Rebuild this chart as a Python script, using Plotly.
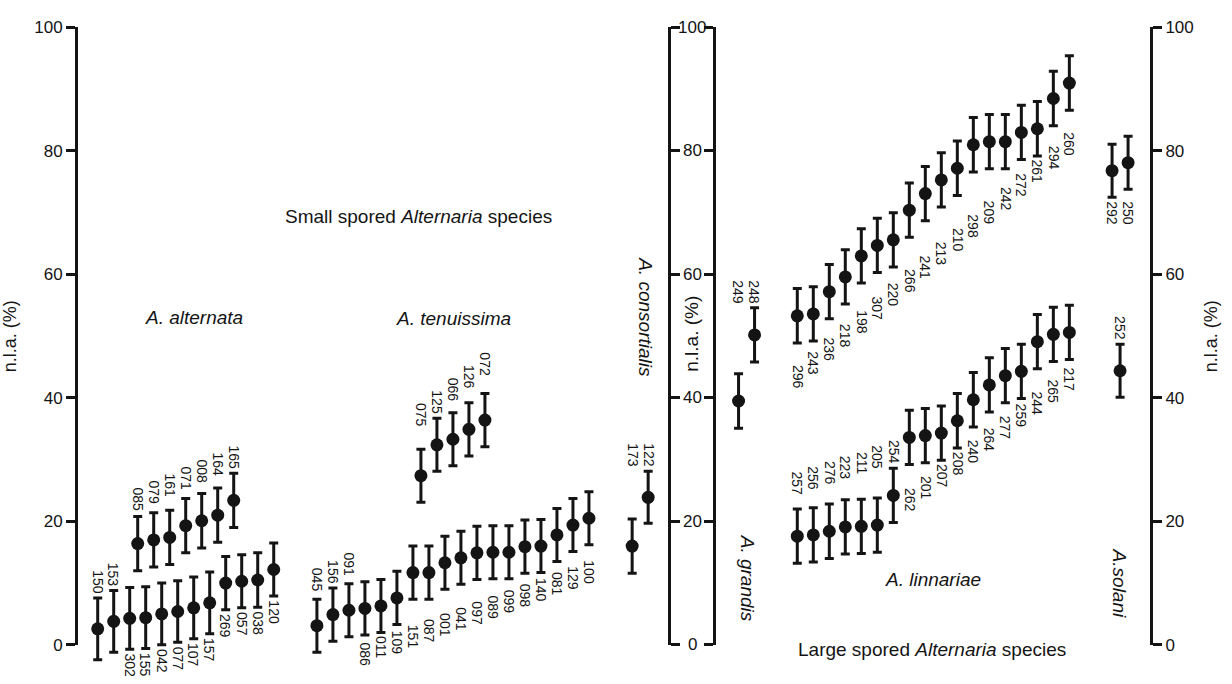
import numpy as np
import plotly.graph_objects as go

# ------------------------------------------------------------------ data
# Small spored Alternaria species (left panel)
alt_lo_ids = ['150', '153', '302', '155', '042', '077', '107', '157', '269', '057', '038', '120']
alt_lo_val = [2.6, 3.8, 4.3, 4.4, 5.0, 5.4, 6.0, 6.8, 10.0, 10.3, 10.5, 12.2]
alt_lo_err = [5.0, 5.0, 5.0, 5.0, 5.0, 5.0, 5.0, 5.0, 4.3, 4.3, 4.4, 4.3]

alt_hi_ids = ['085', '079', '161', '071', '008', '164', '165']
alt_hi_val = [16.4, 17.0, 17.4, 19.3, 20.1, 21.0, 23.4]
alt_hi_err = [4.4, 4.4, 4.4, 4.4, 4.4, 4.4, 4.4]

ten_lo_ids = ['045', '156', '091', '086', '011', '109', '151', '087', '001',
              '041', '097', '089', '099', '098', '140', '081', '129', '100']
ten_lo_val = [3.1, 4.9, 5.6, 5.9, 6.3, 7.6, 11.7, 11.7, 13.3,
              14.1, 14.9, 15.0, 15.0, 15.9, 16.0, 17.8, 19.4, 20.5]
ten_lo_err = [4.3] * 18

ten_hi_ids = ['075', '125', '066', '126', '072']
ten_hi_val = [27.4, 32.4, 33.3, 34.9, 36.4]
ten_hi_err = [4.3, 4.3, 4.3, 4.3, 4.3]

cons_ids = ['173', '122']
cons_val = [16.0, 23.9]
cons_err = [4.4, 4.2]

# Large spored Alternaria species (right panel)
gran_ids = ['249', '248']
gran_val = [39.5, 50.2]
gran_err = [4.4, 4.4]

lin_hi_ids = ['296', '243', '236', '218', '198', '307', '220', '266', '241',
              '213', '210', '298', '209', '242', '272', '261', '294', '260']
lin_hi_val = [53.3, 53.6, 57.2, 59.6, 63.0, 64.7, 65.6, 70.4, 73.1,
              75.3, 77.2, 81.0, 81.5, 81.5, 83.0, 83.6, 88.5, 91.0]
lin_hi_err = [4.4] * 18

lin_lo_ids = ['257', '256', '276', '223', '211', '205', '254', '262', '201',
              '207', '208', '240', '264', '277', '259', '244', '265', '217']
lin_lo_val = [17.6, 17.8, 18.4, 19.1, 19.2, 19.4, 24.2, 33.6, 33.9,
              34.3, 36.3, 39.7, 42.1, 43.6, 44.3, 49.1, 50.3, 50.6]
lin_lo_err = [4.4] * 18

sol_hi_ids = ['292', '250']
sol_hi_val = [76.8, 78.1]
sol_hi_err = [4.3, 4.3]

sol_lo_ids = ['252']
sol_lo_val = [44.4]
sol_lo_err = [4.3]

y_ticks = [0, 20, 40, 60, 80, 100]

# ------------------------------------------------------------------ style / layout
W, H = 1232, 684
INK = '#141414'
FONT = 'Liberation Sans, Arial, sans-serif'
Y0_PX, Y100_PX = 654, 19          # pixel rows of 0 % and 100 %
PX_PER_UNIT = (Y0_PX - Y100_PX) / 100.0


def fx(p):
    return p / W


def fy(p):
    return 1 - p / H


# (ids, values, errors, panel, start position, number of labels above, label placement)
groups = [
    (alt_lo_ids, alt_lo_val, alt_lo_err, 1, 0.0, 2, 'cap'),
    (alt_hi_ids, alt_hi_val, alt_hi_err, 1, 2.5, 7, 'line'),
    (ten_lo_ids, ten_lo_val, ten_lo_err, 1, 13.7, 3, 'line'),
    (ten_hi_ids, ten_hi_val, ten_hi_err, 1, 20.2, 5, 'line'),
    (cons_ids, cons_val, cons_err, 1, 33.4, 2, 'level'),
    (gran_ids, gran_val, gran_err, 2, -3.67, 2, 'level'),
    (lin_hi_ids, lin_hi_val, lin_hi_err, 2, 0.0, 0, 'line'),
    (lin_lo_ids, lin_lo_val, lin_lo_err, 2, 0.0, 7, 'line'),
    (sol_hi_ids, sol_hi_val, sol_hi_err, 2, 19.67, 0, 'level'),
    (sol_lo_ids, sol_lo_val, sol_lo_err, 2, 20.17, 1, 'cap'),
]


def label_line(xs, caps, above, mode):
    """Labels follow each cap, or sit on a straight / level line clearing every cap."""
    if mode == 'cap' or len(xs) == 1:
        return caps
    if mode == 'level':
        slope, icpt = 0.0, 0.0
    else:
        slope, icpt = np.polyfit(xs, caps, 1)
    line = icpt + slope * xs
    off = (caps - line).max() if above else (caps - line).min()
    return line + off


fig = go.Figure()
annotations = []

# empty traces so that the two visible axis subplots are always built
for xa, ya in (('x', 'y'), ('x2', 'y2')):
    fig.add_trace(go.Scatter(x=[], y=[], xaxis=xa, yaxis=ya, mode='markers',
                             showlegend=False, hoverinfo='skip'))

for ids, vals, errs, panel, start, n_above, mode in groups:
    xs = start + np.arange(len(vals))
    v = np.array(vals)
    e = np.array(errs)
    xa = 'x' if panel == 1 else 'x2'
    ya = 'y3' if panel == 1 else 'y4'
    fig.add_trace(go.Scatter(
        x=xs, y=v, mode='markers', xaxis=xa, yaxis=ya, cliponaxis=False,
        marker=dict(size=13, color=INK),
        error_y=dict(type='data', array=e, visible=True, thickness=3, width=4.5, color=INK),
        showlegend=False, hoverinfo='skip'))
    idx = np.arange(len(vals))
    for above in (True, False):
        sel = idx < n_above if above else idx >= n_above
        if not sel.any():
            continue
        caps = (v + e)[sel] if above else (v - e)[sel]
        ys = label_line(xs[sel], caps, above, mode)
        for xv, yv, lab in zip(xs[sel], ys, np.array(ids)[sel]):
            annotations.append(dict(
                x=xv, y=yv, xref=xa, yref=ya, text=lab, textangle=90, showarrow=False,
                xanchor='center', yanchor='bottom' if above else 'top',
                yshift=3 if above else -3, borderpad=0,
                font=dict(size=14, color=INK, family=FONT)))

# middle axis tick labels (centred between the two axis lines)
for t in y_ticks:
    annotations.append(dict(x=fx(692), y=t, xref='paper', yref='y2', text=str(t),
                            showarrow=False, xanchor='center', yanchor='middle',
                            font=dict(size=17, color=INK, family=FONT)))

texts = [
    (692, 334, 'n.l.a. (%)', -90),
    (418, 213, 'Small spored <i>Alternaria</i> species', 0),
    (194, 317, '<i>A. alternata</i>', 0),
    (453, 318, '<i>A. tenuissima</i>', 0),
    (646, 317, '<i>A. consortialis</i>', 90),
    (747, 586, '<i>A. grandis</i>', 90),
    (933, 587, '<i>A. linnariae</i>', 0),
    (1119, 590, '<i>A.solani</i>', 90),
    (932, 659, 'Large spored <i>Alternaria</i> species', 0),
]
for px, py, txt, ang in texts:
    annotations.append(dict(x=fx(px), y=fy(py), xref='paper', yref='paper', text=txt,
                            textangle=ang, showarrow=False, xanchor='center', yanchor='middle',
                            font=dict(size=19, color=INK, family=FONT)))

ydom = [fy(Y0_PX), fy(Y100_PX)]
yax_common = dict(
    domain=ydom, range=[0, 100], tickvals=y_ticks, showline=True, linewidth=3, linecolor=INK,
    ticks='outside', ticklen=9, tickwidth=3, tickcolor=INK, mirror='ticks',
    showgrid=False, zeroline=False, tickfont=dict(size=17, color=INK, family=FONT),
)
# data axes: same scale as the visible axes, but extended to the bottom of the figure
ext_low = -(H - Y0_PX) / PX_PER_UNIT
ydata_common = dict(domain=[0, fy(Y100_PX)], range=[ext_low, 100], visible=False,
                    showgrid=False, zeroline=False)

fig.update_layout(
    width=W, height=H, margin=dict(l=0, r=0, t=0, b=0),
    paper_bgcolor='white', plot_bgcolor='rgba(0,0,0,0)',
    font=dict(family=FONT, color=INK),
    xaxis=dict(domain=[fx(78), fx(668)], range=[-1.231, 35.64], visible=False, anchor='y'),
    xaxis2=dict(domain=[fx(716), fx(1150)], range=[-5.08, 22.04], visible=False, anchor='y2'),
    yaxis=dict(anchor='x', side='left',
               title=dict(text='n.l.a. (%)', standoff=13, font=dict(size=18, color=INK, family=FONT)),
               **yax_common),
    yaxis2=dict(anchor='x2', side='right',
                title=dict(text='n.l.a. (%)', standoff=12, font=dict(size=18, color=INK, family=FONT)),
                **yax_common),
    yaxis3=dict(anchor='x', **ydata_common),
    yaxis4=dict(anchor='x2', **ydata_common),
    annotations=annotations,
)

fig.write_html('out.html')
